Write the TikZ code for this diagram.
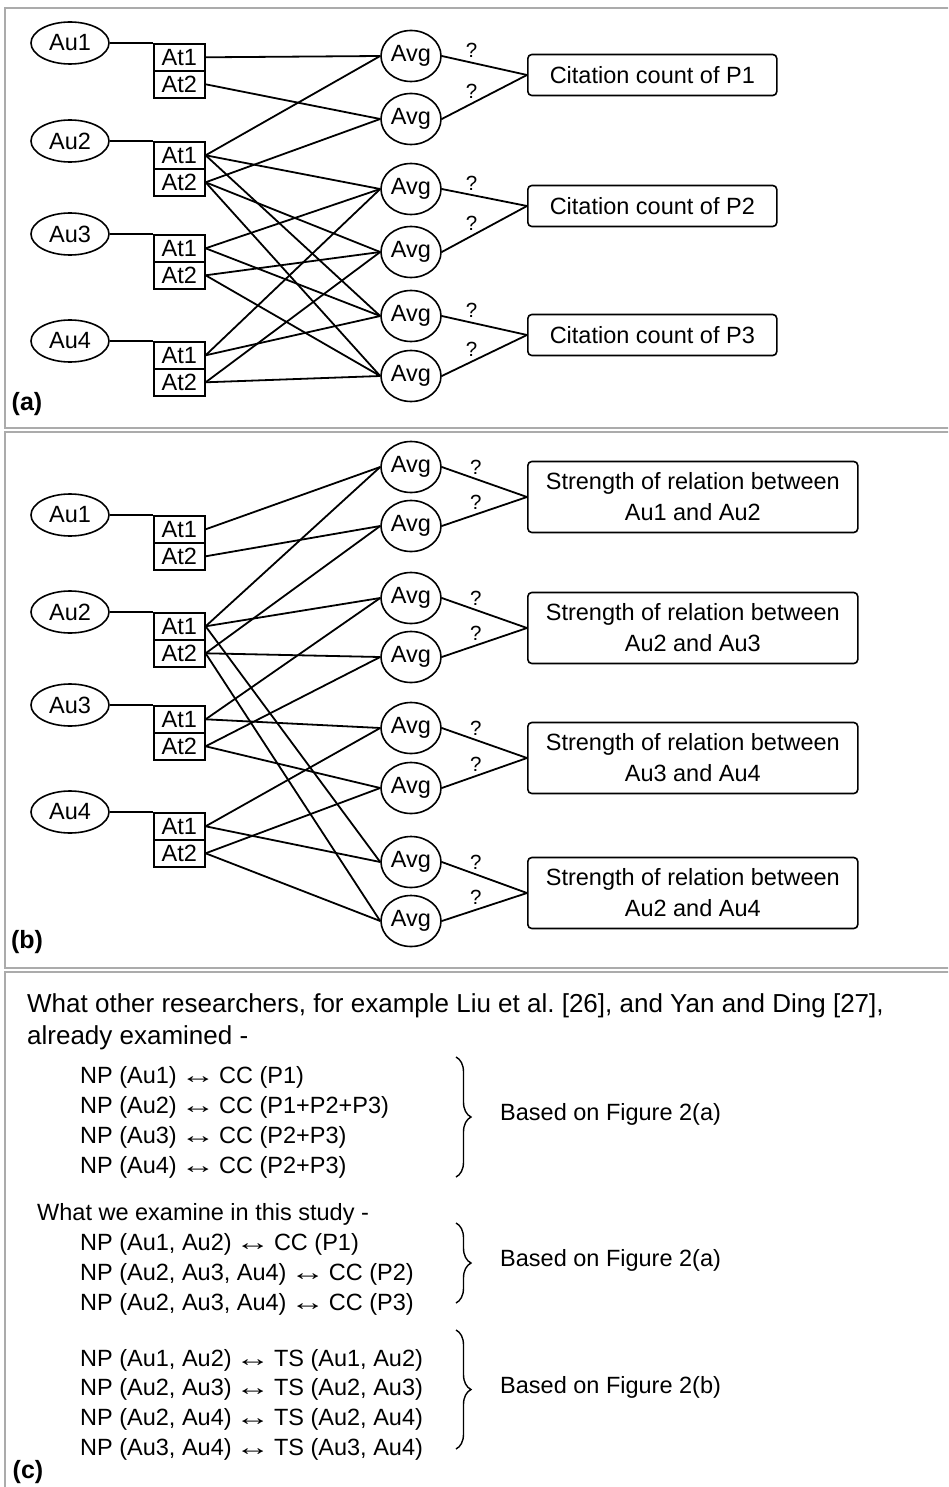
\documentclass[tikz,border=0pt]{standalone}
\usepackage{fontspec}
\setmainfont{Liberation Sans}
\newcommand{\lrar}{\hspace{-3pt}\scalebox{1.5}[1]{↔}\hspace{-3pt}}
\usetikzlibrary{shapes.geometric,decorations.pathreplacing}
\begin{document}
\begin{tikzpicture}[x=1pt,y=-1pt,
  every node/.style={font=\fontsize{23.5}{31}\selectfont},
  au/.style={draw,ellipse,line width=1.6pt,minimum width=78pt,minimum height=42pt,inner sep=0pt},
  atbox/.style={draw,rectangle,line width=1.6pt,minimum width=51pt,minimum height=27pt,inner sep=0pt,anchor=north west},
  avg/.style={draw,ellipse,line width=1.6pt,minimum width=60pt,minimum height=51pt,inner sep=0pt},
  resA/.style={draw,rounded corners=4pt,line width=1.6pt,inner sep=0pt,minimum width=249pt,minimum height=41pt,anchor=west},
  resB/.style={draw,rounded corners=4pt,line width=1.6pt,inner sep=0pt,minimum width=330pt,minimum height=71pt,anchor=west,align=center},
  conn/.style={line width=1.8pt},
  qa/.style={font=\fontsize{20.5}{24}\selectfont,inner sep=0pt,above=4pt,pos=0.35},
  qb/.style={font=\fontsize{20.5}{24}\selectfont,inner sep=0pt,above=4pt,pos=0.4},
  panel/.style={draw=black!33,line width=2pt},
  plabel/.style={font=\fontsize{25}{30}\selectfont\bfseries,inner sep=0pt},
  big/.style={font=\fontsize{26}{31}\selectfont,inner sep=0pt,anchor=base west},
  body/.style={font=\fontsize{23.5}{28}\selectfont,inner sep=0pt,anchor=base west},
  brc/.style={decorate,decoration={brace,amplitude=15pt,aspect=0.5},line width=1.4pt},
]
\useasboundingbox (0,0) rectangle (948,1487);
\clip (0,0) rectangle (948,1487);
\fill[white] (0,0) rectangle (948,1487);

% panel frames
\draw[panel] (960,8) -- (5,8) -- (5,428) -- (960,428);
\draw[panel] (960,432) -- (5,432) -- (5,968) -- (960,968);
\draw[panel] (960,972) -- (5,972) -- (5,1500);

% ================= panel (a) =================
\node[au] (aAu1) at (70,43) {Au1};
\node[au] (aAu2) at (70,141) {Au2};
\node[au] (aAu3) at (70,234) {Au3};
\node[au] (aAu4) at (70,341) {Au4};
\node[atbox] (a1t1) at (153,43) {At1};
\node[atbox] (a1t2) at (153,70) {At2};
\node[atbox] (a2t1) at (153,141) {At1};
\node[atbox] (a2t2) at (153,168) {At2};
\node[atbox] (a3t1) at (153,234) {At1};
\node[atbox] (a3t2) at (153,261) {At2};
\node[atbox] (a4t1) at (153,341) {At1};
\node[atbox] (a4t2) at (153,368) {At2};
\foreach \i in {1,...,4}{\draw[conn] (aAu\i.east) -- (a\i t1.north west);}

\node[avg] (aV1) at (411,56) {Avg};
\node[avg] (aV2) at (411,119) {Avg};
\node[avg] (aV3) at (411,189) {Avg};
\node[avg] (aV4) at (411,252) {Avg};
\node[avg] (aV5) at (411,316) {Avg};
\node[avg] (aV6) at (411,376) {Avg};

\node[resA] (aR1) at (527,75) {Citation count of P1};
\node[resA] (aR2) at (527,206) {Citation count of P2};
\node[resA] (aR3) at (527,335) {Citation count of P3};

\draw[conn] (a1t1.east) -- (aV1.west);
\draw[conn] (a2t1.east) -- (aV1.west);
\draw[conn] (a1t2.east) -- (aV2.west);
\draw[conn] (a2t2.east) -- (aV2.west);
\foreach \k in {2,3,4}{
  \draw[conn] (a\k t1.east) -- (aV3.west);
  \draw[conn] (a\k t2.east) -- (aV4.west);
  \draw[conn] (a\k t1.east) -- (aV5.west);
  \draw[conn] (a\k t2.east) -- (aV6.west);
}
\draw[conn] (aV1.east) -- node[qa] (aq1) {?} (aR1.west);
\draw[conn] (aV2.east) -- node[qa] (aq2) {?} (aR1.west);
\draw[conn] (aV3.east) -- node[qa] (aq3) {?} (aR2.west);
\draw[conn] (aV4.east) -- node[qa] (aq4) {?} (aR2.west);
\draw[conn] (aV5.east) -- node[qa] (aq5) {?} (aR3.west);
\draw[conn] (aV6.east) -- node[qa] (aq6) {?} (aR3.west);
\node[plabel] (la) at (27,404) {(a)};

% ================= panel (b) =================
\node[au] (bAu1) at (70,515) {Au1};
\node[au] (bAu2) at (70,612) {Au2};
\node[au] (bAu3) at (70,705) {Au3};
\node[au] (bAu4) at (70,812) {Au4};
\node[atbox] (b1t1) at (153,515) {At1};
\node[atbox] (b1t2) at (153,542) {At2};
\node[atbox] (b2t1) at (153,612) {At1};
\node[atbox] (b2t2) at (153,639) {At2};
\node[atbox] (b3t1) at (153,705) {At1};
\node[atbox] (b3t2) at (153,732) {At2};
\node[atbox] (b4t1) at (153,812) {At1};
\node[atbox] (b4t2) at (153,839) {At2};
\foreach \i in {1,...,4}{\draw[conn] (bAu\i.east) -- (b\i t1.north west);}

\node[avg] (bV1) at (411,467) {Avg};
\node[avg] (bV2) at (411,526) {Avg};
\node[avg] (bV3) at (411,598) {Avg};
\node[avg] (bV4) at (411,657) {Avg};
\node[avg] (bV5) at (411,728) {Avg};
\node[avg] (bV6) at (411,788) {Avg};
\node[avg] (bV7) at (411,862) {Avg};
\node[avg] (bV8) at (411,921) {Avg};

\node[resB] (bR1) at (527,497) {Strength of relation between\\Au1 and Au2};
\node[resB] (bR2) at (527,628) {Strength of relation between\\Au2 and Au3};
\node[resB] (bR3) at (527,758) {Strength of relation between\\Au3 and Au4};
\node[resB] (bR4) at (527,893) {Strength of relation between\\Au2 and Au4};

\draw[conn] (b1t1.east) -- (bV1.west);
\draw[conn] (b2t1.east) -- (bV1.west);
\draw[conn] (b1t2.east) -- (bV2.west);
\draw[conn] (b2t2.east) -- (bV2.west);
\draw[conn] (b2t1.east) -- (bV3.west);
\draw[conn] (b3t1.east) -- (bV3.west);
\draw[conn] (b2t2.east) -- (bV4.west);
\draw[conn] (b3t2.east) -- (bV4.west);
\draw[conn] (b3t1.east) -- (bV5.west);
\draw[conn] (b4t1.east) -- (bV5.west);
\draw[conn] (b3t2.east) -- (bV6.west);
\draw[conn] (b4t2.east) -- (bV6.west);
\draw[conn] (b2t1.east) -- (bV7.west);
\draw[conn] (b4t1.east) -- (bV7.west);
\draw[conn] (b2t2.east) -- (bV8.west);
\draw[conn] (b4t2.east) -- (bV8.west);

\draw[conn] (bV1.east) -- node[qb] (bq1) {?} (bR1.west);
\draw[conn] (bV2.east) -- node[qb] (bq2) {?} (bR1.west);
\draw[conn] (bV3.east) -- node[qb] (bq3) {?} (bR2.west);
\draw[conn] (bV4.east) -- node[qb] (bq4) {?} (bR2.west);
\draw[conn] (bV5.east) -- node[qb] (bq5) {?} (bR3.west);
\draw[conn] (bV6.east) -- node[qb] (bq6) {?} (bR3.west);
\draw[conn] (bV7.east) -- node[qb] (bq7) {?} (bR4.west);
\draw[conn] (bV8.east) -- node[qb] (bq8) {?} (bR4.west);
\node[plabel] (lb) at (27,942) {(b)};

% ================= panel (c) =================
\node[big] (c1) at (27,1012) {What other researchers, for example Liu et al.\ [26], and Yan and Ding [27],};
\node[big] (c2) at (27,1044) {already examined -};
\node[body] (c3) at (80,1083) {NP (Au1) \lrar\ CC (P1)};
\node[body] (c4) at (80,1113) {NP (Au2) \lrar\ CC (P1+P2+P3)};
\node[body] (c5) at (80,1143) {NP (Au3) \lrar\ CC (P2+P3)};
\node[body] (c6) at (80,1173) {NP (Au4) \lrar\ CC (P2+P3)};
\coordinate (br1a) at (456,1057);
\coordinate (br1b) at (456,1177);
\draw[brc] (br1a) -- (br1b);
\node[body] (f1) at (500,1120) {Based on Figure 2(a)};

\node[body] (c7) at (37,1220) {What we examine in this study -};
\node[body] (c8) at (80,1250) {NP (Au1, Au2) \lrar\ CC (P1)};
\node[body] (c9) at (80,1280) {NP (Au2, Au3, Au4) \lrar\ CC (P2)};
\node[body] (c10) at (80,1310) {NP (Au2, Au3, Au4) \lrar\ CC (P3)};
\coordinate (br2a) at (456,1223);
\coordinate (br2b) at (456,1303);
\draw[brc] (br2a) -- (br2b);
\node[body] (f2) at (500,1266) {Based on Figure 2(a)};

\node[body] (c11) at (80,1366) {NP (Au1, Au2) \lrar\ TS (Au1, Au2)};
\node[body] (c12) at (80,1395) {NP (Au2, Au3) \lrar\ TS (Au2, Au3)};
\node[body] (c13) at (80,1425) {NP (Au2, Au4) \lrar\ TS (Au2, Au4)};
\node[body] (c14) at (80,1455) {NP (Au3, Au4) \lrar\ TS (Au3, Au4)};
\coordinate (br3a) at (456,1330);
\coordinate (br3b) at (456,1449);
\draw[brc] (br3a) -- (br3b);
\node[body] (f3) at (500,1393) {Based on Figure 2(b)};
\node[plabel] (lc) at (28,1472) {(c)};
\end{tikzpicture}
\end{document}
